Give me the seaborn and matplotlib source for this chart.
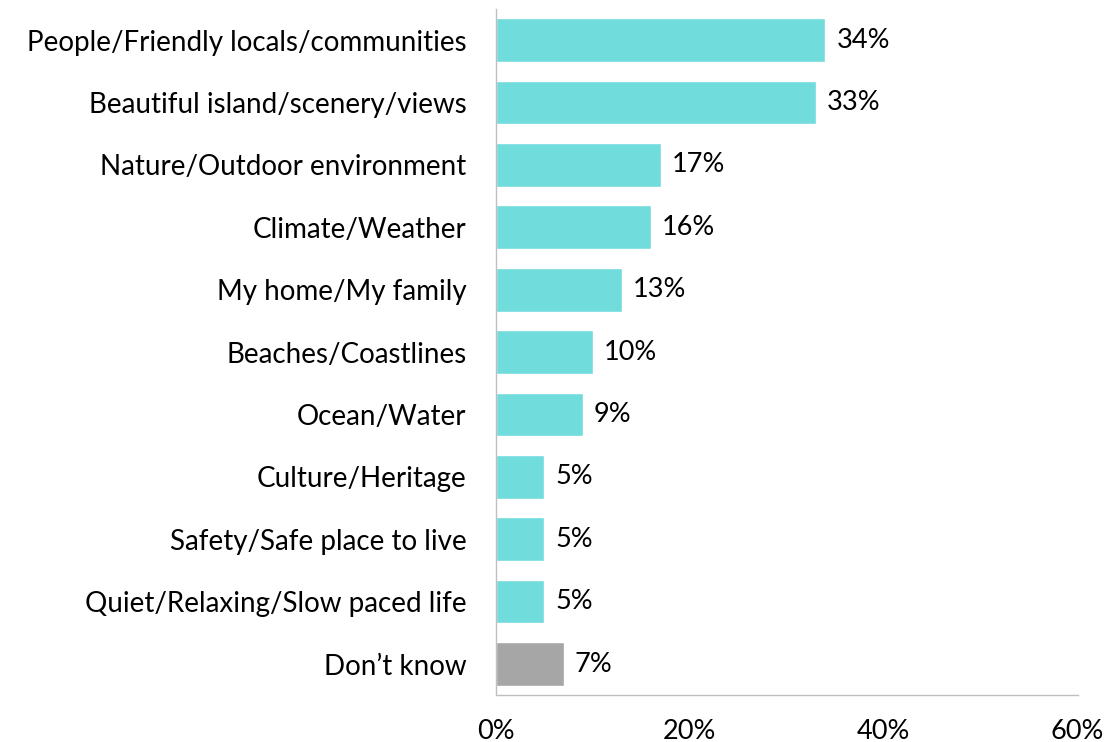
import numpy as np
import matplotlib.pyplot as plt
import seaborn as sns

# data
categories = ['People/Friendly locals/communities', 'Beautiful island/scenery/views',
              'Nature/Outdoor environment', 'Climate/Weather', 'My home/My family',
              'Beaches/Coastlines', 'Ocean/Water', 'Culture/Heritage',
              'Safety/Safe place to live', 'Quiet/Relaxing/Slow paced life', 'Don\u2019t know']
values = [34, 33, 17, 16, 13, 10, 9, 5, 5, 5, 7]
bar_colors = ['#70DCDC'] * 10 + ['#A6A6A6']
x_ticks = [0, 20, 40, 60]

sns.set_style('white')
plt.rcParams['font.family'] = ['Lato', 'DejaVu Sans']

fig = plt.figure(figsize=(11.04, 7.42), dpi=100)
ax = fig.add_axes([0.449, 0.063, 0.527, 0.925])

sns.barplot(x=values, y=categories, hue=categories, palette=bar_colors,
            legend=False, orient='h', width=0.7, saturation=1, ax=ax)

for cont, v in zip(ax.containers, values):
    ax.bar_label(cont, labels=[f'{v}%'], padding=8, fontsize=19.5, color='black')

ax.set_xlim(0, 60)
ax.set_ylim(len(categories) - 0.5, -0.5)
ax.set_xticks(x_ticks)
ax.set_xticklabels([f'{t}%' for t in x_ticks], fontsize=19.5)
ax.tick_params(axis='x', length=8, width=1, color='#BFBFBF', direction='out',
               pad=9, labelcolor='black')
ax.tick_params(axis='y', which='major', length=0, labelsize=20, pad=21,
               labelcolor='black')
ax.set_yticks(np.arange(len(categories) + 1) - 0.5, minor=True)
ax.tick_params(axis='y', which='minor', length=8, width=1, color='#BFBFBF', direction='out')

for s in ['top', 'right']:
    ax.spines[s].set_visible(False)
for s in ['left', 'bottom']:
    ax.spines[s].set_color('#BFBFBF')
    ax.spines[s].set_linewidth(1)

ax.set_xlabel('')
ax.set_ylabel('')

plt.savefig('out.png', dpi=100)
